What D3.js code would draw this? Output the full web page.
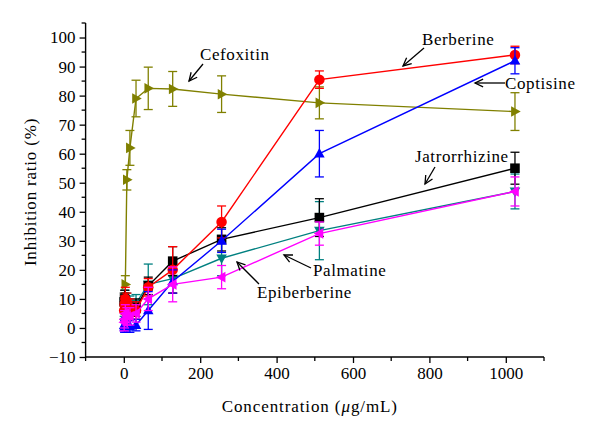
<!DOCTYPE html>
<html><head><meta charset="utf-8">
<script src="https://cdn.jsdelivr.net/npm/d3@7"></script>
<style>body{margin:0;background:#fff}svg{display:block}</style>
</head><body><svg id="c" width="600" height="439"></svg>
<script>
// ---- data ----
const conc = [1, 2, 4, 8, 16, 32, 64, 128, 256, 512, 1024];
const cefoxConc = [4, 8, 16, 32, 64, 128, 256, 512, 1024];
const berberine = [6, 8, 10, 9, 7, 6, 14, 20, 36.5, 85.5, 94];
const berberineErr = [3, 3, 4, 3, 3, 3, 3, 8, 5.5, 3, 3];
const coptisine = [1, 0.5, 1.5, 0.5, 0.5, 1, 6, 16, 30, 60, 92];
const coptisineErr = [2, 2, 2, 2, 2, 2, 6.5, 4, 4, 8, 4.5];
const jatrorrhizine = [9, 10, 8, 7, 6, 7, 14.5, 23, 30.5, 38, 55];
const jatrorrhizineErr = [3, 3, 3, 3, 3, 3, 3, 5, 4, 6.5, 5.5];
const palmatine = [7, 8, 10, 9, 8, 8.5, 15, 17, 24, 33.5, 47];
const palmatineErr = [3, 3, 3, 3, 3, 3, 7, 5, 6, 10, 6];
const epiberberine = [2, 3, 5, 4, 4, 5, 10, 15, 17.5, 32.5, 47];
const epiberberineErr = [3, 3, 3, 3, 3, 3, 4, 6, 4, 4, 5];
const cefoxitin = [15, 51, 62, 79, 82.5, 82.3, 80.5, 77.5, 74.5];
const cefoxitinErr = [3, 3.5, 6, 6.3, 7.3, 6, 6.3, 5.5, 6.5];
const xTicks = [0, 200, 400, 600, 800, 1000];
const yTicks = [-10, 0, 10, 20, 30, 40, 50, 60, 70, 80, 90, 100];

const FONT = "'Liberation Serif', 'Times New Roman', 'Tinos', serif";

const series = [
  {name: "Cefoxitin", x: cefoxConc, y: cefoxitin, e: cefoxitinErr, color: "#808000", shape: "right"},
  {name: "Palmatine", x: conc, y: palmatine, e: palmatineErr, color: "#008080", shape: "down"},
  {name: "Jatrorrhizine", x: conc, y: jatrorrhizine, e: jatrorrhizineErr, color: "#000000", shape: "square"},
  {name: "Berberine", x: conc, y: berberine, e: berberineErr, color: "#ff0000", shape: "circle"},
  {name: "Coptisine", x: conc, y: coptisine, e: coptisineErr, color: "#0000ff", shape: "up"},
  {name: "Epiberberine", x: conc, y: epiberberine, e: epiberberineErr, color: "#ff00ff", shape: "left"}
];

const svg = d3.select("#c");
const x = d3.scaleLinear().domain([-100, 1100]).range([85.6, 544]);
const y = d3.scaleLinear().domain([-10, 105]).range([357, 23]);

// axes
const xAxis = d3.axisBottom(x).tickValues(xTicks).tickSize(6).tickPadding(4).tickFormat(d3.format("d"));
const gx = svg.append("g").attr("transform", `translate(0,${y(-10)})`).call(xAxis)
  .attr("font-family", FONT).attr("font-size", 17);
gx.selectAll(".tick text").attr("fill", "#000").style("font-family", FONT);
gx.append("g").selectAll("line").data(d3.range(-100, 1101, 200)).join("line")
  .attr("x1", d => x(d)).attr("x2", d => x(d)).attr("y1", 0).attr("y2", 4).attr("stroke", "#000").attr("stroke-width", 1.3);
const yAxis = d3.axisLeft(y).tickValues(yTicks).tickSize(6).tickPadding(4).tickFormat(d => d < 0 ? "\u2212" + Math.abs(d) : d);
const gy = svg.append("g").attr("transform", `translate(${x(-100)},0)`).call(yAxis)
  .attr("font-family", FONT).attr("font-size", 17);
gy.selectAll(".tick text").attr("fill", "#000").style("font-family", FONT);
gy.append("g").selectAll("line").data(d3.range(-5, 106, 10)).join("line")
  .attr("y1", d => y(d)).attr("y2", d => y(d)).attr("x1", 0).attr("x2", -4).attr("stroke", "#000").attr("stroke-width", 1.3);
gx.select(".domain").attr("d", `M${x(-100)},0H${x(1100)}`).attr("stroke-width", 1.4);
gy.select(".domain").attr("d", `M0,${y(105)}V${y(-10)}`).attr("stroke-width", 1.4);
svg.selectAll(".tick line").attr("stroke-width", 1.3);

// axis titles
svg.append("text").attr("x", (x(-100) + x(1100)) / 2 - 5).attr("y", 412).attr("text-anchor", "middle")
  .style("font-family", FONT).attr("font-size", 17).attr("letter-spacing", 0.9)
  .html('Concentration (<tspan font-style="italic">μ</tspan>g/mL)');
svg.append("text").attr("transform", `translate(36,192) rotate(-90)`).attr("text-anchor", "middle")
  .style("font-family", FONT).attr("font-size", 17).attr("letter-spacing", 0.8)
  .text("Inhibition ratio (%)");

// markers
function markerPath(shape, s) {
  switch (shape) {
    case "square": return `M${-s},${-s}h${2*s}v${2*s}h${-2*s}Z`;
    case "circle": return d3.symbol(d3.symbolCircle, Math.PI * s * s * 1.2)();
    case "up": return `M0,${-s*1.2}L${s*1.1},${s*0.8}L${-s*1.1},${s*0.8}Z`;
    case "down": return `M0,${s*1.2}L${s*1.1},${-s*0.8}L${-s*1.1},${-s*0.8}Z`;
    case "left": return `M${-s*1.2},0L${s*0.8},${s*1.1}L${s*0.8},${-s*1.1}Z`;
    case "right": return `M${s*1.2},0L${-s*0.8},${s*1.1}L${-s*0.8},${-s*1.1}Z`;
  }
}
const line = d3.line().x(d => x(d[0])).y(d => y(d[1]));
series.forEach(s => {
  const pts = s.x.map((c, i) => [c, s.y[i], s.e[i]]);
  const g = svg.append("g");
  g.append("path").attr("d", line(pts)).attr("fill", "none").attr("stroke", s.color).attr("stroke-width", 1.4);
  const eb = g.append("g").attr("stroke", s.color).attr("stroke-width", 1.3);
  pts.forEach(p => {
    const cx = x(p[0]);
    eb.append("line").attr("x1", cx).attr("x2", cx).attr("y1", y(p[1] - p[2])).attr("y2", y(p[1] + p[2]));
    eb.append("line").attr("x1", cx - 4.5).attr("x2", cx + 4.5).attr("y1", y(p[1] - p[2])).attr("y2", y(p[1] - p[2]));
    eb.append("line").attr("x1", cx - 4.5).attr("x2", cx + 4.5).attr("y1", y(p[1] + p[2])).attr("y2", y(p[1] + p[2]));
  });
  g.selectAll("path.m").data(pts).join("path").attr("class", "m")
    .attr("transform", d => `translate(${x(d[0])},${y(d[1])})`)
    .attr("d", markerPath(s.shape, 4.8)).attr("fill", s.color);
});

// annotations
function arrow(x1, y1, x2, y2) {
  const g = svg.append("g").attr("stroke", "#000").attr("stroke-width", 1.3).attr("fill", "none");
  g.append("line").attr("x1", x1).attr("y1", y1).attr("x2", x2).attr("y2", y2);
  const a = Math.atan2(y2 - y1, x2 - x1), L = 9, w = 0.45;
  g.append("path").attr("d", `M${x2 - L*Math.cos(a - w)},${y2 - L*Math.sin(a - w)}L${x2},${y2}L${x2 - L*Math.cos(a + w)},${y2 - L*Math.sin(a + w)}`);
}
function label(t, px, py) {
  svg.append("text").attr("x", px).attr("y", py).style("font-family", FONT).attr("font-size", 17)
    .attr("letter-spacing", 0.6).text(t);
}
label("Cefoxitin", 200, 60); arrow(203, 64, 189, 81);
label("Berberine", 422, 45); arrow(424, 48, 403, 66);
label("Coptisine", 505, 89); arrow(505, 83, 475, 83);
label("Jatrorrhizine", 415, 162); arrow(435, 167, 425, 184);
label("Palmatine", 313, 276); arrow(311, 268, 284, 255);
label("Epiberberine", 257, 298); arrow(259, 284, 237, 262);
</script></body></html>
